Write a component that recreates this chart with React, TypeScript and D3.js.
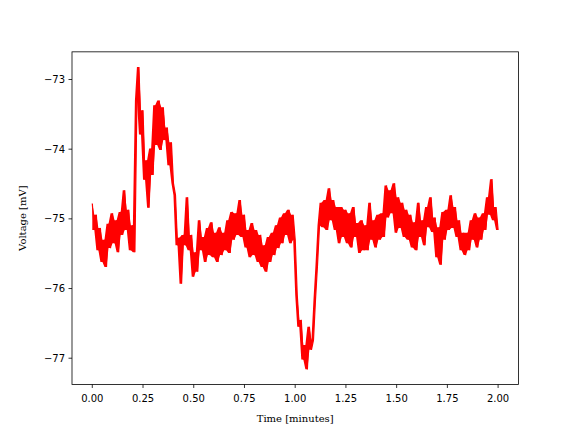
import React from "react";
import * as d3 from "d3";

// Time step between samples, in minutes
const SAMPLE_STEP_MIN = 0.01;

// Voltage readings [mV], one per sample
const voltage: number[] = [
  -74.78, -75.16, -74.94, -75.45, -75.13, -75.62, -75.30, -75.69, -75.07, -75.42,
  -74.92, -75.35, -75.02, -75.48, -74.90, -75.23, -74.59, -75.16, -74.87, -75.45,
  -75.09, -75.48, -73.30, -72.82, -73.79, -73.44, -74.44, -74.16, -74.84, -73.99,
  -74.37, -73.37, -73.94, -73.30, -74.01, -73.40, -73.87, -73.69, -74.23, -73.90,
  -74.49, -74.66, -75.38, -75.27, -75.93, -75.23, -75.38, -74.69, -75.45, -75.23,
  -75.83, -75.48, -75.76, -75.02, -75.45, -75.26, -75.62, -75.13, -75.52, -75.05,
  -75.55, -75.20, -75.62, -75.12, -75.52, -75.20, -75.45, -75.02, -75.49, -74.90,
  -75.30, -74.92, -75.23, -74.73, -75.26, -74.94, -75.41, -75.16, -75.55, -75.06,
  -75.52, -75.16, -75.62, -75.23, -75.69, -75.38, -75.76, -75.26, -75.62, -75.20,
  -75.52, -75.09, -75.42, -74.98, -75.35, -74.92, -75.23, -74.87, -75.35, -74.94,
  -75.30, -76.09, -76.55, -76.45, -77.02, -76.81, -77.16, -76.55, -76.88, -76.74,
  -76.16, -75.66, -75.09, -74.77, -75.12, -74.73, -75.16, -74.56, -75.02, -74.73,
  -75.16, -74.83, -75.35, -74.83, -75.26, -74.87, -75.35, -74.92, -75.41, -74.83,
  -75.26, -75.06, -75.49, -75.02, -75.45, -75.09, -75.45, -74.77, -75.30, -75.02,
  -75.41, -74.94, -75.30, -74.92, -75.26, -74.52, -74.98, -74.59, -74.92, -74.49,
  -75.20, -74.69, -75.13, -74.77, -75.26, -74.87, -75.30, -74.94, -75.41, -75.05,
  -75.45, -74.77, -75.26, -75.02, -75.38, -74.83, -75.12, -74.69, -75.19, -74.98,
  -75.55, -75.12, -75.66, -74.90, -75.30, -74.87, -75.16, -74.66, -75.13, -74.83,
  -75.26, -75.02, -75.45, -75.20, -75.52, -75.20, -75.45, -75.02, -75.30, -74.92,
  -75.41, -74.98, -75.30, -74.92, -75.16, -74.69, -74.94, -74.43, -75.02, -74.83,
  -75.16,
];

const xTicks: number[] = [0, 0.25, 0.5, 0.75, 1.0, 1.25, 1.5, 1.75, 2.0];
const yTicks: number[] = [-77, -76, -75, -74, -73];

const W = 576;
const H = 432;
const M = { left: 72, right: 518.4, top: 51.84, bottom: 384.48 };

type Pt = { t: number; v: number; lo: number; hi: number };

export default function App() {
  const pts: Pt[] = voltage.map((v, i) => {
    const nxt = i + 1 < voltage.length ? voltage[i + 1] : v;
    return { t: i * SAMPLE_STEP_MIN, v, lo: Math.min(v, nxt), hi: Math.max(v, nxt) };
  });
  const tExt = d3.extent(pts, (d) => d.t) as [number, number];
  const vExt = d3.extent(pts, (d) => d.v) as [number, number];
  const tPad = (tExt[1] - tExt[0]) * 0.05;
  const vPad = (vExt[1] - vExt[0]) * 0.05;

  const x = d3
    .scaleLinear()
    .domain([tExt[0] - tPad, tExt[1] + tPad])
    .range([M.left, M.right]);
  const y = d3
    .scaleLinear()
    .domain([vExt[0] - vPad, vExt[1] + vPad])
    .range([M.bottom, M.top]);

  const line = d3
    .line<Pt>()
    .x((d) => x(d.t))
    .y((d) => y(d.v));

  const band = d3
    .area<Pt>()
    .x((d) => x(d.t))
    .y0((d) => y(d.lo))
    .y1((d) => y(d.hi));

  const fmtX = d3.format(".2f");
  const fmtY = (v: number) => (v < 0 ? "\u2212" + Math.abs(v) : String(v));
  const tickFont = "DejaVu Sans, sans-serif";
  const labelFont = "DejaVu Serif, serif";

  return (
    <svg
      width={W}
      height={H}
      style={{ position: "absolute", left: 0, top: 0, background: "#fff" }}
    >
      <rect x={0} y={0} width={W} height={H} fill="#fff" />
      <defs>
        <clipPath id="plotclip">
          <rect x={M.left} y={M.top} width={M.right - M.left} height={M.bottom - M.top} />
        </clipPath>
      </defs>
      <g clipPath="url(#plotclip)">
        <path d={band(pts) ?? ""} fill="#ff0000" stroke="none" />
        <path
          d={line(pts) ?? ""}
          fill="none"
          stroke="#ff0000"
          strokeWidth={1.2}
          strokeLinejoin="miter"
        />
      </g>
      <rect
        x={M.left}
        y={M.top}
        width={M.right - M.left}
        height={M.bottom - M.top}
        fill="none"
        stroke="#000"
        strokeWidth={0.8}
      />
      {xTicks.map((t) => (
        <g key={"xt" + t}>
          <line x1={x(t)} x2={x(t)} y1={M.bottom} y2={M.bottom + 3.5} stroke="#000" strokeWidth={0.8} />
          <text
            x={x(t)}
            y={M.bottom + 17.5}
            textAnchor="middle"
            fontFamily={tickFont}
            fontSize={10}
            fill="#000"
          >
            {fmtX(t)}
          </text>
        </g>
      ))}
      {yTicks.map((v) => (
        <g key={"yt" + v}>
          <line x1={M.left - 3.5} x2={M.left} y1={y(v)} y2={y(v)} stroke="#000" strokeWidth={0.8} />
          <text
            x={M.left - 7}
            y={y(v)}
            dy="0.36em"
            textAnchor="end"
            fontFamily={tickFont}
            fontSize={10}
            fill="#000"
          >
            {fmtY(v)}
          </text>
        </g>
      ))}
      <text
        x={(M.left + M.right) / 2}
        y={422}
        textAnchor="middle"
        fontFamily={labelFont}
        fontSize={10}
        fill="#000"
      >
        Time [minutes]
      </text>
      <text
        transform={`translate(26,${(M.top + M.bottom) / 2}) rotate(-90)`}
        textAnchor="middle"
        fontFamily={labelFont}
        fontSize={10}
        fill="#000"
      >
        Voltage [mV]
      </text>
    </svg>
  );
}
